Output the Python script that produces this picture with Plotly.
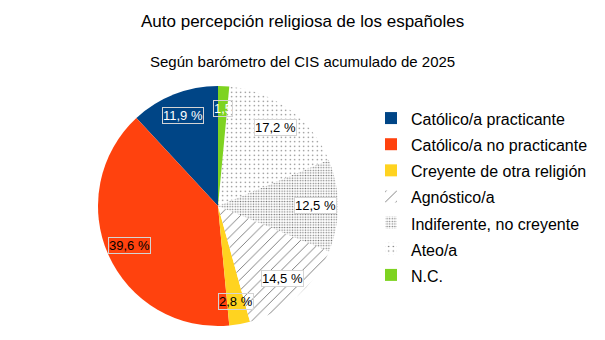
import math
import plotly.graph_objects as go

# ---- data ----
labels = ["Católico/a practicante", "Católico/a no practicante", "Creyente de otra religión",
          "Agnóstico/a", "Indiferente, no creyente", "Ateo/a", "N.C."]
values = [11.9, 39.6, 2.8, 14.5, 12.5, 17.2, 1.5]
value_labels = ["11,9 %", "39,6 %", "2,8 %", "14,5 %", "12,5 %", "17,2 %", "1,5"]

title_text = "Auto percepción religiosa de los españoles"
subtitle_text = "Según barómetro del CIS acumulado de 2025"

# ---- styles ----
colors = ["#004586", "#ff420e", "#ffd320", "#ffffff", "#ffffff", "#ffffff", "#7ed321"]
shapes = ["", "", "", "/", ".", ".", ""]
pat_sizes = [8, 8, 8, 7.5, 2.6, 4.5, 8]
pat_solid = [0.2, 0.2, 0.2, 0.07, 0.25, 0.07, 0.2]
pat_fg = ["#000", "#000", "#000", "#111", "#777", "#666", "#000"]
label_colors = ["#ffffff", "#000000", "#000000", "#000000", "#000000", "#000000", "#ffffff"]
label_bg = ["rgba(0,0,0,0)", "rgba(0,0,0,0)", "rgba(0,0,0,0)", "#ffffff", "#ffffff", "#ffffff",
            "rgba(0,0,0,0)"]

W, H = 605, 340
FONT = "Liberation Sans, Arial, sans-serif"
# pie geometry (pixels)
px_left, px_right, px_top, px_bottom = 97, 339, 86, 326
cx = (px_left + px_right) / 2
cy = (px_top + px_bottom) / 2
R = min(px_right - px_left, px_bottom - px_top) / 2

legend_labels = [f"<span style='font-size:16px'>{l}</span>" for l in labels]

total = sum(values)

fig = go.Figure()
fig.add_trace(go.Pie(
    labels=legend_labels,
    values=values,
    sort=False,
    direction="counterclockwise",
    # plotly puts the first slice clockwise of 'rotation' for counterclockwise pies
    rotation=-360 * values[0] / total,
    textinfo="none",
    hoverinfo="label+percent",
    marker=dict(
        colors=colors,
        line=dict(width=0),
        pattern=dict(shape=shapes, size=pat_sizes, solidity=pat_solid,
                     fgcolor=pat_fg, bgcolor=colors, fillmode="replace"),
    ),
    domain=dict(x=[px_left / W, px_right / W], y=[1 - px_bottom / H, 1 - px_top / H]),
))

# data labels placed from slice angles
cum = 0.0
annotations = []
for v, txt, col, bg in zip(values, value_labels, label_colors, label_bg):
    mid = (cum + v / 2) / total
    cum += v
    ang = 2 * math.pi * mid  # counterclockwise from top
    r = 0.81 * R
    x = cx - r * math.sin(ang)
    y = cy - r * math.cos(ang)
    annotations.append(dict(
        x=x / W, y=1 - y / H, xref="paper", yref="paper",
        xanchor="center", yanchor="middle",
        text=txt, showarrow=False,
        font=dict(family=FONT, size=13, color=col),
        bordercolor="#d4d4d4", borderwidth=1, borderpad=0, bgcolor=bg,
    ))

annotations.append(dict(x=0.5, y=1 - 22 / H, xref="paper", yref="paper", text=title_text,
                        xanchor="center", yanchor="middle",
                        showarrow=False, font=dict(family=FONT, size=17, color="#000")))
annotations.append(dict(x=0.5, y=1 - 61 / H, xref="paper", yref="paper", text=subtitle_text,
                        xanchor="center", yanchor="middle",
                        showarrow=False, font=dict(family=FONT, size=15, color="#000")))

fig.update_layout(
    width=W, height=H,
    margin=dict(l=0, r=0, t=0, b=0),
    paper_bgcolor="white",
    plot_bgcolor="white",
    separators=", ",
    font=dict(family=FONT, color="#000"),
    showlegend=True,
    legend=dict(
        x=371 / W, xanchor="left",
        y=1 - 100 / H, yanchor="top",
        font=dict(family=FONT, size=17.8, color="#000"),
        bgcolor="rgba(0,0,0,0)",
        traceorder="normal",
    ),
    annotations=annotations,
)

fig.write_html("out.html")
